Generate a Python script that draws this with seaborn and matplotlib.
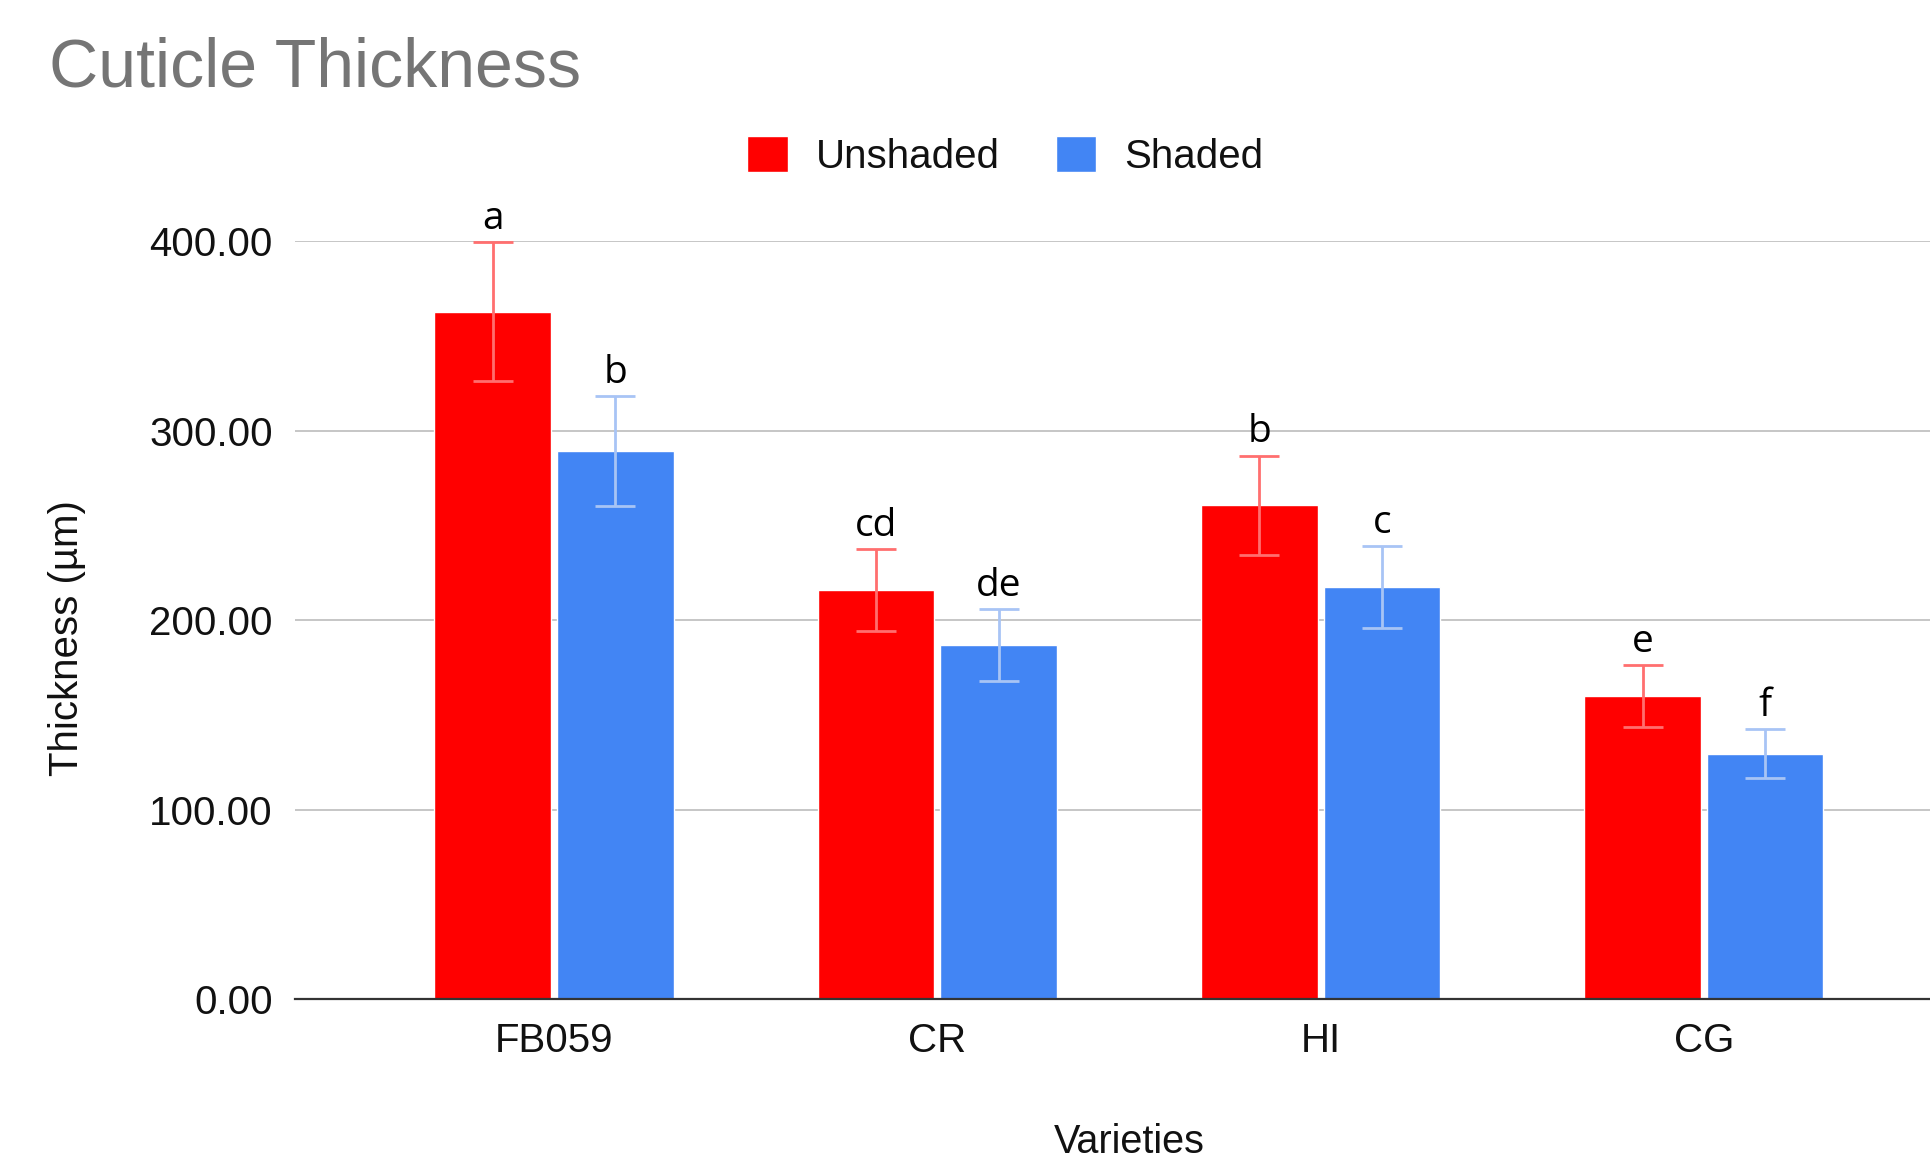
import matplotlib.pyplot as plt
import pandas as pd
import seaborn as sns

# Data
varieties = ["FB059", "CR", "HI", "CG"]
unshaded = [362.7, 215.8, 260.6, 160.1]
shaded = [289.3, 186.8, 217.6, 129.7]
unshaded_err = [36.5, 21.6, 26.2, 16.2]
shaded_err = [28.8, 18.9, 21.7, 12.9]
unshaded_letters = ["a", "cd", "b", "e"]
shaded_letters = ["b", "de", "c", "f"]

# Colors:
red = "#ff0000"
blue = "#4285f4"
red_err = "#ff6f6f"
blue_err = "#a8c4f5"
grid_color = "#c6c6c6"
text_color = "#111111"

df = pd.DataFrame({
    "Variety": varieties * 2,
    "Thickness": unshaded + shaded,
    "Treatment": ["Unshaded"] * len(varieties) + ["Shaded"] * len(varieties),
})

sns.set_style("white")
plt.rcParams["font.family"] = ["Liberation Sans", "DejaVu Sans"]

fig = plt.figure(figsize=(19.3, 11.63), dpi=100)
fig.set_facecolor("white")
ax = fig.add_axes([0.1528, 0.1406, 0.8472, 0.6522])

sns.barplot(data=df, x="Variety", y="Thickness", hue="Treatment",
            palette=[red, blue], width=0.64, gap=0.05,
            errorbar=None, saturation=1, ax=ax)

# error bars + significance letters
for cont, errs, col, letters in zip(ax.containers,
                                   [unshaded_err, shaded_err],
                                   [red_err, blue_err],
                                   [unshaded_letters, shaded_letters]):
    xs = [p.get_x() + p.get_width() / 2 for p in cont.patches]
    hs = [p.get_height() for p in cont.patches]
    ax.errorbar(xs, hs, yerr=errs, fmt="none", ecolor=col,
                elinewidth=2.0, capsize=14.4, capthick=2.0, zorder=3)
    for x, h, e, s in zip(xs, hs, errs, letters):
        ax.annotate(s, (x, h + e), xytext=(0, 3), textcoords="offset points",
                    ha="center", va="bottom", fontsize=28, color="black",
                    family=["Open Sans", "DejaVu Sans"], clip_on=False)

ax.set_ylim(0, 400)
ax.set_xlim(-0.676, 3.59)
ax.set_yticks([0, 100, 200, 300, 400])
ax.set_yticklabels([f"{v:.2f}" for v in [0, 100, 200, 300, 400]])
ax.yaxis.grid(True, color=grid_color, linewidth=1.4)
ax.set_axisbelow(True)
for s in ["top", "right", "left"]:
    ax.spines[s].set_visible(False)
ax.spines["bottom"].set(color="#333333", linewidth=1.6)
ax.tick_params(axis="both", length=0, labelsize=29, labelcolor=text_color)
ax.tick_params(axis="y", pad=16)
ax.tick_params(axis="x", pad=16)

ax.set_ylabel("Thickness (µm)", fontsize=29, color=text_color)
ax.yaxis.set_label_coords(-0.128, 0.476)
ax.set_xlabel("Varieties", fontsize=28.5, color=text_color)
ax.xaxis.set_label_coords(0.51, -0.163)

# legend
handles, labels = ax.get_legend_handles_labels()
ax.get_legend().remove()
fig.legend(handles, labels, loc="center", bbox_to_anchor=(0.521, 0.866),
           ncol=2, frameon=False, fontsize=29, handlelength=1.0,
           handleheight=1.0, handletextpad=0.7, columnspacing=1.4,
           labelcolor=text_color)

# title
fig.text(0.0254, 0.926, "Cuticle Thickness", fontsize=49, color="#757575",
         ha="left", va="baseline")

plt.savefig("out.png", dpi=100)
